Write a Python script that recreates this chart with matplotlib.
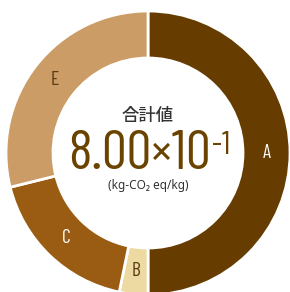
"""Donut chart of CO2 breakdown with total in the centre."""

import matplotlib
matplotlib.use("Agg")
import matplotlib.pyplot as plt

categories = ["A", "B", "C", "E"]
values = [0.400, 0.026, 0.143, 0.231]
colors = ["#663c00", "#edd9a2", "#9a5c12", "#cc9c66"]
label_colors = ["white", "#5a3a10", "white", "#5a3a10"]

total_label = "合計値"
total_mantissa = "8.00×10"
total_exp = "-1"
unit_label = "(kg-CO₂ eq/kg)"

narrow = ["Barlow Condensed", "DejaVu Sans"]

fig = plt.figure(figsize=(2.90, 2.92), dpi=100)
ax = fig.add_axes([0, 0, 1, 1])

cx, cy, r = 148, 139, 142
wedges, texts = ax.pie(values, colors=colors, startangle=90, counterclock=False,
                       center=(cx, cy), radius=r, labels=categories,
                       labeldistance=0.835,
                       wedgeprops=dict(width=47, edgecolor="white", linewidth=2))
for t, c in zip(texts, label_colors):
    t.set_color(c)
    t.set_fontsize(14)
    t.set_family(narrow)
    t.set_ha("center")
    t.set_va("center")

# pie() resets the limits, so set them afterwards
ax.set_xlim(0, 290)
ax.set_ylim(0, 292)
ax.set_aspect("equal")
ax.axis("off")

ax.text(cx, 176, total_label, ha="center", va="center", fontsize=12.5,
        color="#333333", weight="medium",
        family=["Noto Sans CJK JP", "DejaVu Sans"])
ax.text(139, 137, total_mantissa, ha="center", va="center", fontsize=40,
        color="#6b4300", family=narrow)
ax.text(221, 146, total_exp, ha="center", va="center", fontsize=23,
        color="#6b4300", family=narrow)
ax.text(cx, 106, unit_label, ha="center", va="center", fontsize=8.5,
        color="#333333", family=["Noto Sans", "DejaVu Sans"])

fig.savefig("out.png", dpi=100)
